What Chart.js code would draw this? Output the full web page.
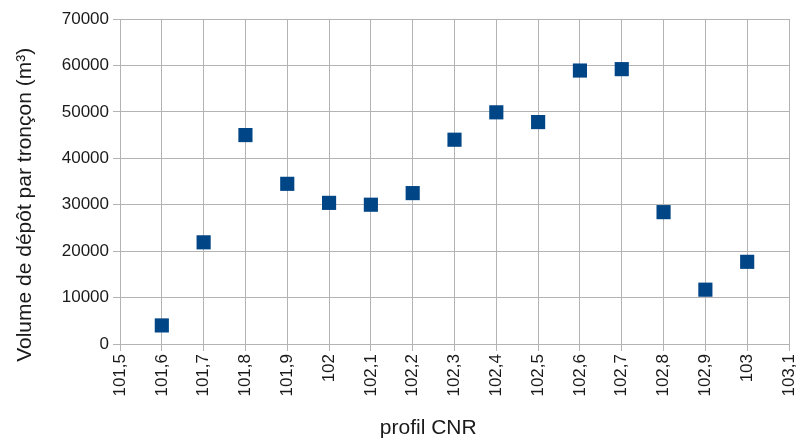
<!DOCTYPE html>
<html>
<head>
<meta charset="utf-8">
<script src="https://cdn.jsdelivr.net/npm/chart.js@4/dist/chart.umd.min.js"></script>
<style>
  html, body { margin: 0; padding: 0; background: #fff; }
  #wrap { width: 801px; height: 445px; }
</style>
</head>
<body>
<div id="wrap"><canvas id="chart" width="801" height="445"></canvas></div>
<script>
// Data
const profils = [101.6, 101.7, 101.8, 101.9, 102, 102.1, 102.2, 102.3, 102.4, 102.5, 102.6, 102.7, 102.8, 102.9, 103];
const volumes = [4000, 21900, 45000, 34500, 30400, 30000, 32500, 44000, 49900, 47800, 58900, 59200, 28400, 11700, 17700];
const xTicks = [101.5, 101.6, 101.7, 101.8, 101.9, 102, 102.1, 102.2, 102.3, 102.4, 102.5, 102.6, 102.7, 102.8, 102.9, 103, 103.1];
const yTicks = [0, 10000, 20000, 30000, 40000, 50000, 60000, 70000];

const gridColor = "#b3b3b3";
const textColor = "#1a1a1a";
const font = "'Liberation Sans', Arial, sans-serif";

// comma decimal, no trailing zero (102 -> "102", 102.1 -> "102,1")
function frNumber(v) {
  return String(Math.round(v * 10) / 10).replace(".", ",");
}

new Chart(document.getElementById("chart"), {
  type: "scatter",
  data: {
    datasets: [
      {
        data: profils.map((x, i) => ({ x: x, y: volumes[i] })),
        pointStyle: "rect",
        pointRadius: 10,
        pointHoverRadius: 10,
        backgroundColor: "#004586",
        borderColor: "#004586",
        borderWidth: 0
      }
    ]
  },
  options: {
    responsive: false,
    animation: false,
    layout: {
      padding: { left: 0, right: 0, top: 19, bottom: 0 }
    },
    plugins: {
      legend: { display: false },
      tooltip: { enabled: false }
    },
    scales: {
      x: {
        type: "linear",
        min: xTicks[0],
        max: xTicks[xTicks.length - 1],
        afterBuildTicks: (axis) => {
          axis.ticks = xTicks.map((v) => ({ value: v }));
        },
        afterFit: (axis) => {
          axis.height = 101;
          axis.paddingLeft = 0;
          axis.paddingRight = 12;
        },
        ticks: {
          minRotation: 90,
          maxRotation: 90,
          autoSkip: false,
          padding: 3,
          color: textColor,
          font: { family: font, size: 17 },
          callback: (v) => frNumber(v)
        },
        grid: {
          color: gridColor,
          lineWidth: 1,
          tickLength: 7,
          tickColor: gridColor
        },
        border: { color: gridColor },
        title: {
          display: true,
          // trailing spaces shift the centred title left like the reference
          text: "profil CNR         ",
          color: textColor,
          font: { family: font, size: 21 },
          padding: { top: 0, bottom: 4 }
        }
      },
      y: {
        min: yTicks[0],
        max: yTicks[yTicks.length - 1],
        afterBuildTicks: (axis) => {
          axis.ticks = yTicks.map((v) => ({ value: v }));
        },
        afterFit: (axis) => {
          axis.width = 120;
        },
        ticks: {
          padding: 4,
          color: textColor,
          font: { family: font, size: 17 },
          callback: (v) => String(v)
        },
        grid: {
          color: gridColor,
          lineWidth: 1,
          tickLength: 7,
          tickColor: gridColor
        },
        border: { color: gridColor },
        title: {
          display: true,
          // trailing spaces push the centred title down like the reference
          text: "Volume de dépôt par tronçon (m³)        ",
          color: textColor,
          font: { family: font, size: 21 },
          padding: { top: 13, bottom: 0 }
        }
      }
    }
  }
});
</script>
</body>
</html>
